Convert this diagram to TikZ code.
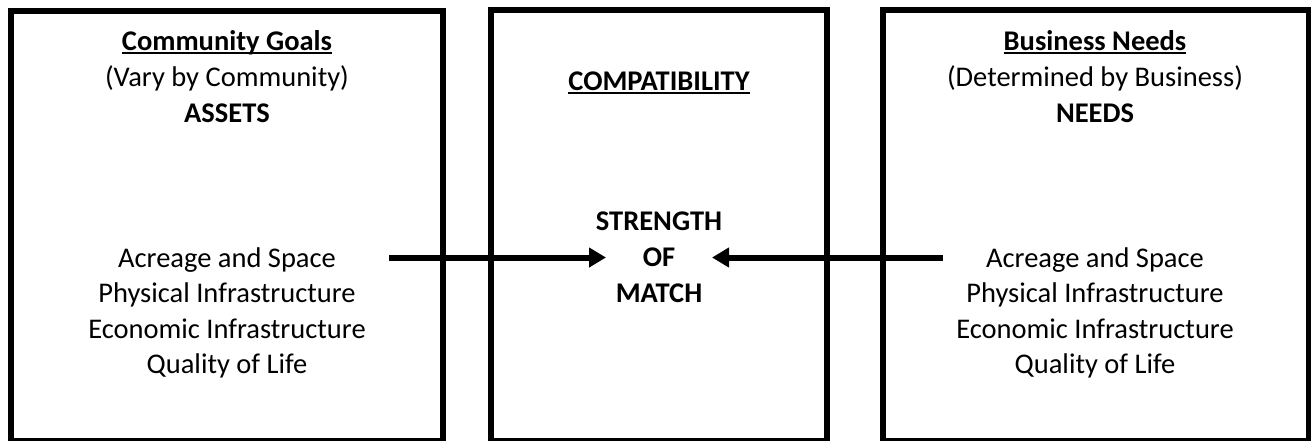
\documentclass[tikz,border=0pt]{standalone}
\usepackage{fontspec}
\setmainfont{Carlito}
\newcommand{\myul}[1]{\setbox0\hbox{#1}\rlap{\vrule width\wd0 height -1.1pt depth 2.1pt}\box0}
\usetikzlibrary{arrows.meta}
\begin{document}
\begin{tikzpicture}[x=0.5pt,y=-0.5pt,
  box/.style={draw=black,line width=3pt},
  txt/.style={anchor=base,inner sep=0pt,font=\fontsize{14.25pt}{18pt}\selectfont},
  btxt/.style={txt,font=\fontsize{14.25pt}{18pt}\selectfont\bfseries},
  conn/.style={line width=3pt,-{Triangle[length=8.5pt,width=9.5pt]}}]
\useasboundingbox (0,0) rectangle (1311,440);
\clip (0,0) rectangle (1311,440);
\fill[white] (0,0) rectangle (1311,440);
% boxes
\draw[box] (11,11) rectangle (443,441);
\draw[box] (491,10) rectangle (827,441);
\draw[box] (883,10) rectangle (1308.5,441);
% left header
\node[btxt] (cg) at (227,50) {\myul{Community Goals}};
\node[txt] (vary) at (227,86) {(Vary by Community)};
\node[btxt] (assets) at (227,122) {ASSETS};
% middle
\node[btxt] (compat) at (659,90) {\myul{COMPATIBILITY}};
\node[btxt] (str) at (659,230) {STRENGTH};
\node[btxt] (of) at (659,266) {OF};
\node[btxt] (match) at (659,302) {MATCH};
% right header
\node[btxt] (bn) at (1095,50) {\myul{Business Needs}};
\node[txt] (det) at (1095,86) {(Determined by Business)};
\node[btxt] (needs) at (1095,122) {NEEDS};
% left list
\node[txt] (l1) at (227,267) {Acreage and Space};
\node[txt] (l2) at (227,302.5) {Physical Infrastructure};
\node[txt] (l3) at (227,338) {Economic Infrastructure};
\node[txt] (l4) at (227,373.5) {Quality of Life};
% right list
\node[txt] (r1) at (1095,267) {Acreage and Space};
\node[txt] (r2) at (1095,302.5) {Physical Infrastructure};
\node[txt] (r3) at (1095,338) {Economic Infrastructure};
\node[txt] (r4) at (1095,373.5) {Quality of Life};
% arrows
\coordinate (las) at (389,257.5);
\coordinate (lae) at (606,257.5);
\coordinate (ras) at (943,257.5);
\coordinate (rae) at (712,257.5);
\draw[conn] (las) -- (lae);
\draw[conn] (ras) -- (rae);
\end{tikzpicture}
\end{document}
